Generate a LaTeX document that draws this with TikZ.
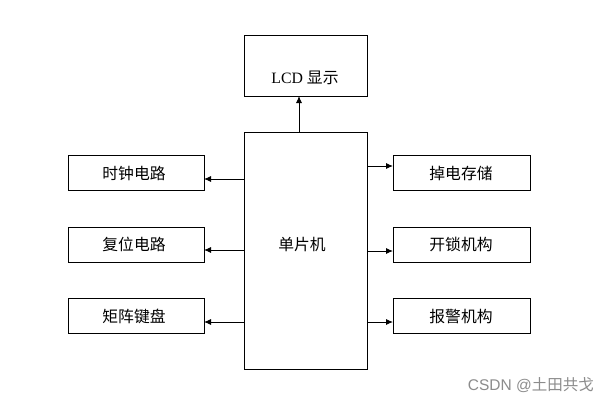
\documentclass[tikz,border=0pt]{standalone}
\usepackage{fontspec}
\setmainfont{Liberation Serif}
\newfontfamily\cjk{Noto Sans CJK SC}
\newfontfamily\wmfont{Liberation Sans}
\usetikzlibrary{arrows.meta}
\begin{document}
\begin{tikzpicture}[x=1pt,y=-1pt,
  box/.style={draw=black,line width=0.9pt,fill=white,inner sep=0pt},
  lbl/.style={font=\cjk\fontsize{15.8}{17}\selectfont},
  conn/.style={line width=0.9pt,-{Latex[length=7pt,width=6pt]}}]
\useasboundingbox (0,0) rectangle (610,404);
\fill[white] (0,0) rectangle (610,404);
% central MCU
\draw[box] (244,132) rectangle (367,369);
\node[lbl] (mcu) at (302,245) {单片机};
\coordinate (mcuTop) at (299,132);
% LCD
\draw[box] (244,35) rectangle (367,96);
\node (lcdT) at (305,78) {\fontsize{15.8}{17}\selectfont LCD {\cjk 显示}};
\coordinate (lcdBot) at (299,96);
% left boxes
\draw[box] (68,155) rectangle (204,190);
\node[lbl] (clk) at (134,173) {时钟电路};
\draw[box] (68,227) rectangle (204,262);
\node[lbl] (rst) at (134,244) {复位电路};
\draw[box] (68,298) rectangle (204,333);
\node[lbl] (kbd) at (134,316) {矩阵键盘};
% right boxes
\draw[box] (393,155) rectangle (530,190);
\node[lbl] (pwr) at (461,173) {掉电存储};
\draw[box] (393,227) rectangle (530,262);
\node[lbl] (lock) at (461,244) {开锁机构};
\draw[box] (393,298) rectangle (530,333);
\node[lbl] (alarm) at (461,316) {报警机构};
% connectors
\coordinate (m1l) at (244,179); \coordinate (c1) at (204,179);
\coordinate (m2l) at (244,250); \coordinate (c2) at (204,250);
\coordinate (m3l) at (244,322); \coordinate (c3) at (204,322);
\coordinate (m1r) at (367,166); \coordinate (d1) at (393,166);
\coordinate (m2r) at (367,251); \coordinate (d2) at (393,251);
\coordinate (m3r) at (367,322); \coordinate (d3) at (393,322);
\draw[conn] (mcuTop) -- (lcdBot);
\draw[conn] (m1l) -- (c1);
\draw[conn] (m2l) -- (c2);
\draw[conn] (m3l) -- (c3);
\draw[conn] (m1r) -- (d1);
\draw[conn] (m2r) -- (d2);
\draw[conn] (m3r) -- (d3);
% watermark
\node[anchor=east,text=black!45,inner sep=0pt] (wm) at (594,385) {\wmfont\fontsize{15.5}{17}\selectfont CSDN @{\cjk 土田共戈}};
\end{tikzpicture}
\end{document}
